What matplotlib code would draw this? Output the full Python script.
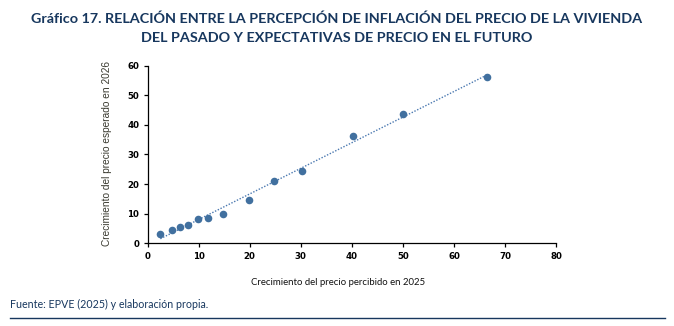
import numpy as np
import matplotlib
matplotlib.use("Agg")
import matplotlib.pyplot as plt

percibido_2025 = [2.5, 4.7, 6.4, 8.0, 9.8, 11.8, 14.8, 19.8, 24.8, 30.3, 40.2, 50.1, 66.5]
esperado_2026 = [3.1, 4.5, 5.6, 6.1, 8.3, 8.7, 10.0, 14.5, 21.0, 24.3, 36.3, 43.8, 56.3]
x_ticks = [0, 10, 20, 30, 40, 50, 60, 70, 80]
y_ticks = [0, 10, 20, 30, 40, 50, 60]

title = ("Gráfico 17. RELACIÓN ENTRE LA PERCEPCIÓN DE INFLACIÓN DEL PRECIO DE LA VIVIENDA\n"
         "DEL PASADO Y EXPECTATIVAS DE PRECIO EN EL FUTURO")
xlabel = "Crecimiento del precio percibido en 2025"
ylabel = "Crecimiento del precio esperado en 2026"
source = "Fuente: EPVE (2025) y elaboración propia."

navy = "#17375E"
point_color = "#41709F"

fig = plt.figure(figsize=(6.74, 3.26), dpi=100)
ax = fig.add_axes([0.219, 0.2537, 0.606, 0.5448])

x = np.array(percibido_2025)
y = np.array(esperado_2026)
ax.scatter(x, y, s=30, color=point_color, zorder=3, linewidths=0)
m, b = np.polyfit(x, y, 1)
xl = np.array([x.min(), x.max()])
ax.plot(xl, m * xl + b, linestyle=(0, (1, 1.2)), color="#4A78B0", linewidth=1.0, zorder=2)

ax.set_xlim(0, 80)
ax.set_ylim(0, 60)
ax.set_xticks(x_ticks)
ax.set_yticks(y_ticks)
for s in ["top", "right"]:
    ax.spines[s].set_visible(False)
for s in ["left", "bottom"]:
    ax.spines[s].set_linewidth(0.9)
    ax.spines[s].set_color("black")
ax.tick_params(axis="both", direction="out", length=3, width=0.9, labelsize=6.2, pad=3)
for lab in ax.get_xticklabels() + ax.get_yticklabels():
    lab.set_fontweight("bold")
    lab.set_family("DejaVu Sans")

fig.text(0.5, 0.962, title, ha="center", va="top", fontsize=10.4, fontweight="bold",
         color=navy, family="Lato", linespacing=1.75)
fig.text(0.502, 0.132, xlabel, ha="center", va="center", fontsize=6.9, color="#111111", family="Lato")
fig.text(0.159, 0.53, ylabel, ha="center", va="center", rotation=90, fontsize=7.3, color="#3a3a30",
         family="Liberation Sans")
fig.text(0.015, 0.065, source, ha="left", va="center", fontsize=7.7, color=navy, family="Lato")
fig.add_artist(plt.Line2D([0.015, 0.987], [0.025, 0.025], transform=fig.transFigure,
                          color=navy, linewidth=1.0))

fig.savefig("out.png", dpi=100)
